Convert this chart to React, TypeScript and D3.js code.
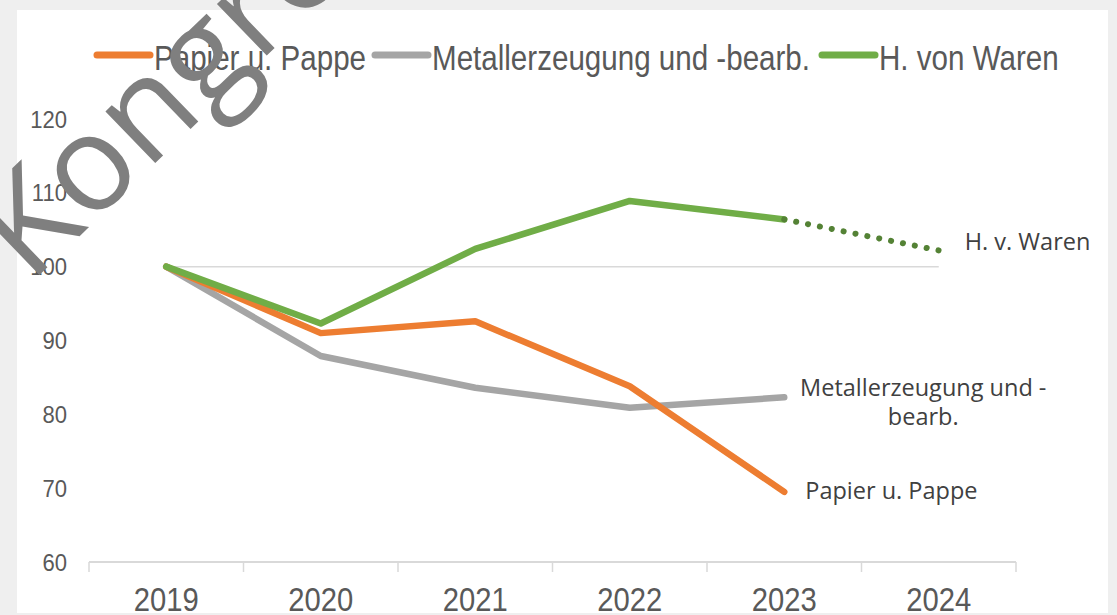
import React from 'react'
import * as d3 from 'd3'

const W = 1117
const H = 615

const years = ['2019', '2020', '2021', '2022', '2023', '2024']
const seriesNames = ['Papier u. Pappe', 'Metallerzeugung und -bearb.', 'H. von Waren']
const papier = [100, 91.0, 92.6, 83.8, 69.5]
const metall = [100, 87.9, 83.6, 80.9, 82.3]
const waren = [100, 92.3, 102.4, 108.9, 106.4]
const warenForecast = [106.4, 102.2] // 2023 -> 2024, dotted
const basis = [100, 100, 100, 100, 100, 100]
const yTicks = [60, 70, 80, 90, 100, 110, 120]
const colors = ['#ED7D31', '#A5A5A5', '#70AD47']
const forecastColor = '#548235'

// narrow sans: Liberation Sans squeezed horizontally
const axisFont = "'Liberation Sans', Arial, sans-serif"
const labelFont = "'Open Sans', sans-serif"
const textColor = '#595959'

function Narrow(props: { x: number; y: number; size: number; sx: number; anchor?: string; children: React.ReactNode }) {
  return (
    <text transform={`translate(${props.x},${props.y}) scale(${props.sx},1)`} textAnchor={props.anchor || 'start'}
      fontFamily={axisFont} fontSize={props.size} fill={textColor}>{props.children}</text>
  )
}

export default function App() {
  const x = d3.scaleBand().domain(years).range([89, 1016])
  const y = d3.scaleLinear().domain([60, 120]).range([562, 119])
  const cx = (yr: string) => (x(yr) as number) + x.bandwidth() / 2

  const line = d3.line<number>()
    .x((_, i) => cx(years[i]))
    .y(d => y(d))
  const forecastLine = d3.line<number>()
    .x((_, i) => cx(years[4 + i]))
    .y(d => y(d))

  const data = [papier, metall, waren]
  const legendX = [97, 375, 822]

  return (
    <svg width={W} height={H} style={{ position: 'absolute', left: 0, top: 0 }}>
      <rect width={W} height={H} fill="#efefef" />
      <rect x={17} y={10} width={1091} height={603} fill="#fff" />

      {/* basis line at 100 */}
      <path d={line(basis) as string} fill="none" stroke="#d9d9d9" strokeWidth={1.5} />

      {/* x axis */}
      <line x1={89} x2={1016} y1={y(60)} y2={y(60)} stroke="#d9d9d9" strokeWidth={2} />
      {years.map(yr => (
        <line key={'t' + yr} x1={x(yr)} x2={x(yr)} y1={y(60)} y2={y(60) + 10} stroke="#d9d9d9" strokeWidth={1.5} />
      ))}
      <line x1={1016} x2={1016} y1={y(60)} y2={y(60) + 10} stroke="#d9d9d9" strokeWidth={1.5} />
      {years.map(yr => (
        <Narrow key={yr} x={cx(yr)} y={611} size={34} sx={0.86} anchor="middle">{yr}</Narrow>
      ))}

      {/* y ticks */}
      {yTicks.map(t => (
        <Narrow key={t} x={67} y={y(t) + 8.5} size={24} sx={0.92} anchor="end">{t}</Narrow>
      ))}

      {/* series, gray under orange under green */}
      {[1, 0, 2].map(i => (
        <path key={i} d={line(data[i]) as string} fill="none" stroke={colors[i]} strokeWidth={6.5}
          strokeLinejoin="round" strokeLinecap="round" />
      ))}
      <path d={forecastLine(warenForecast) as string} fill="none" stroke={forecastColor} strokeWidth={6}
        strokeLinecap="round" strokeDasharray="0.1 12" />

      {/* end labels */}
      <text x={cx('2024') + 26} y={250} fontFamily={labelFont} fontSize={23.5} fill="#404040">H. v. Waren</text>
      <text x={cx('2023') + 139} y={396} textAnchor="middle" fontFamily={labelFont} fontSize={23.5} fill="#404040">Metallerzeugung und -</text>
      <text x={cx('2023') + 139} y={425} textAnchor="middle" fontFamily={labelFont} fontSize={23.5} fill="#404040">bearb.</text>
      <text x={cx('2023') + 21} y={499} fontFamily={labelFont} fontSize={23.5} fill="#404040">Papier u. Pappe</text>

      {/* legend */}
      {seriesNames.map((name, i) => (
        <g key={name} transform={`translate(${legendX[i]},55)`}>
          <line x1={0} x2={53} y1={0} y2={0} stroke={colors[i]} strokeWidth={7} strokeLinecap="round" />
          <Narrow x={57} y={15} size={35} sx={0.845}>{name}</Narrow>
        </g>
      ))}

      {/* watermark */}
      <text transform="translate(30,284) rotate(-44)" fontFamily={labelFont} fontSize={134} fill="#7f7f7f">Kongre</text>
    </svg>
  )
}
